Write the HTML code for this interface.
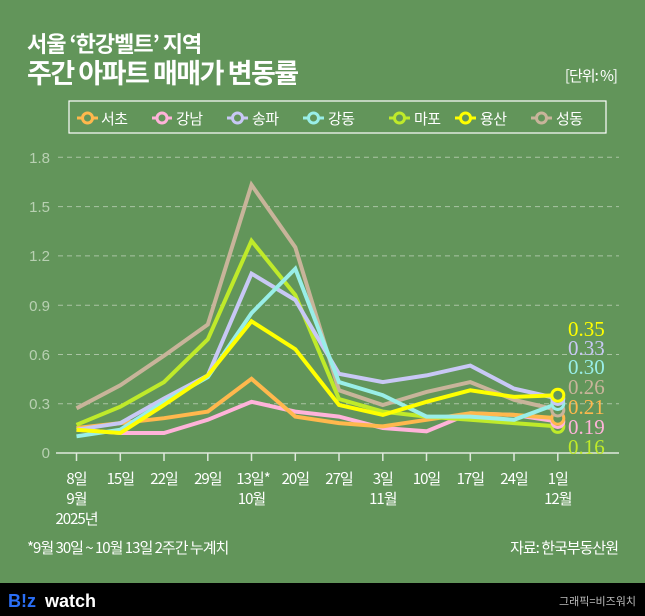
<!DOCTYPE html>
<html><head><meta charset="utf-8"><style>
html,body{margin:0;padding:0;background:#62955a;}
svg{display:block}
</style></head><body>
<svg width="645" height="616" viewBox="0 0 645 616" xmlns="http://www.w3.org/2000/svg" style="font-family:'Liberation Sans','Noto Sans CJK KR',sans-serif">
<rect width="645" height="616" fill="#62955a"/>
<text x="27" y="52" font-size="22" font-weight="bold" fill="#fff" style="font-family:'Noto Sans CJK KR',sans-serif" letter-spacing="-1">서울 ‘한강벨트’ 지역</text>
<text x="27" y="83" font-size="27" font-weight="bold" fill="#fff" style="font-family:'Noto Sans CJK KR',sans-serif" letter-spacing="-1.5">주간 아파트 매매가 변동률</text>
<text x="617" y="81" font-size="15" fill="#fff" text-anchor="end" style="font-family:'Noto Sans CJK KR',sans-serif" letter-spacing="-1">[단위: %]</text>
<rect x="69" y="101" width="537" height="32" fill="none" stroke="#fff" stroke-width="1.2"/>
<g stroke-width="3" fill="none">
<line x1="77" y1="118" x2="98" y2="118" stroke="#ffb84d"/><circle cx="87.5" cy="118" r="5" stroke="#ffb84d" fill="#62955a"/>
<line x1="152" y1="118" x2="172" y2="118" stroke="#ffb3d9"/><circle cx="162" cy="118" r="5" stroke="#ffb3d9" fill="#62955a"/>
<line x1="227" y1="118" x2="248" y2="118" stroke="#c8c8f5"/><circle cx="237.5" cy="118" r="5" stroke="#c8c8f5" fill="#62955a"/>
<line x1="303" y1="118" x2="324" y2="118" stroke="#99eee8"/><circle cx="313.5" cy="118" r="5" stroke="#99eee8" fill="#62955a"/>
<line x1="389" y1="118" x2="410" y2="118" stroke="#bfea2a"/><circle cx="399.5" cy="118" r="5" stroke="#bfea2a" fill="#62955a"/>
<line x1="455" y1="118" x2="476" y2="118" stroke="#ffff00"/><circle cx="465.5" cy="118" r="5" stroke="#ffff00" fill="#62955a"/>
<line x1="531" y1="118" x2="552" y2="118" stroke="#c8b49a"/><circle cx="541.5" cy="118" r="5" stroke="#c8b49a" fill="#62955a"/>
</g>
<g font-size="15" fill="#fff" style="font-family:'Noto Sans CJK KR',sans-serif" letter-spacing="-0.5">
<text x="101" y="124">서초</text>
<text x="176" y="124">강남</text>
<text x="252" y="124">송파</text>
<text x="328" y="124">강동</text>
<text x="414" y="124">마포</text>
<text x="480" y="124">용산</text>
<text x="556" y="124">성동</text>
</g>
<g stroke="#a9c4a3" stroke-width="1" stroke-dasharray="5,4">
<line x1="58" y1="157.3" x2="619" y2="157.3"/>
<line x1="58" y1="206.6" x2="619" y2="206.6"/>
<line x1="58" y1="255.9" x2="619" y2="255.9"/>
<line x1="58" y1="305.2" x2="619" y2="305.2"/>
<line x1="58" y1="354.5" x2="619" y2="354.5"/>
<line x1="58" y1="403.8" x2="619" y2="403.8"/>
</g>
<g font-size="15" fill="#b8d0b2" text-anchor="end">
<text x="50" y="163">1.8</text><text x="50" y="212">1.5</text><text x="50" y="261">1.2</text>
<text x="50" y="311">0.9</text><text x="50" y="360">0.6</text><text x="50" y="409">0.3</text><text x="50" y="458">0</text>
</g>
<line x1="56" y1="453" x2="619" y2="453" stroke="#dfe9dc" stroke-width="1.5"/>
<g stroke="#dfe9dc" stroke-width="1.5">
<line x1="76.5" y1="453" x2="76.5" y2="461"/><line x1="120.3" y1="453" x2="120.3" y2="461"/><line x1="164" y1="453" x2="164" y2="461"/><line x1="207.8" y1="453" x2="207.8" y2="461"/><line x1="251.5" y1="453" x2="251.5" y2="461"/><line x1="295.3" y1="453" x2="295.3" y2="461"/><line x1="339" y1="453" x2="339" y2="461"/><line x1="382.8" y1="453" x2="382.8" y2="461"/><line x1="426.5" y1="453" x2="426.5" y2="461"/><line x1="470.3" y1="453" x2="470.3" y2="461"/><line x1="514" y1="453" x2="514" y2="461"/><line x1="557.8" y1="453" x2="557.8" y2="461"/>
</g>
<g font-size="15" fill="#fff" text-anchor="middle" style="font-family:'Noto Sans CJK KR',sans-serif" letter-spacing="-1">
<text x="76.5" y="484">8일</text><text x="120.3" y="484">15일</text><text x="164" y="484">22일</text><text x="207.8" y="484">29일</text><text x="253" y="484">13일*</text><text x="295.3" y="484">20일</text><text x="339" y="484">27일</text><text x="382.8" y="484">3일</text><text x="426.5" y="484">10일</text><text x="470.3" y="484">17일</text><text x="514" y="484">24일</text><text x="557.8" y="484">1일</text>
<text x="76.5" y="504">9월</text><text x="251.5" y="504">10월</text><text x="382.8" y="504">11월</text><text x="557.8" y="504">12월</text>
<text x="76.5" y="524">2025년</text>
</g>
<text x="27" y="553" font-size="15" fill="#fff" style="font-family:'Noto Sans CJK KR',sans-serif" letter-spacing="-1">*9월 30일 ~ 10월 13일 2주간 누계치</text>
<text x="618" y="553" font-size="15" fill="#fff" text-anchor="end" style="font-family:'Noto Sans CJK KR',sans-serif" letter-spacing="-1">자료: 한국부동산원</text>
<g fill="none" stroke-width="4" stroke-linejoin="miter">
<polyline stroke="#ffb3d9" points="76.5,429.7 120.3,433 164,433 207.8,419.8 251.5,401.8 295.3,411.6 339,416.6 382.8,428 426.5,431.3 470.3,413.3 514,414.9 557.8,421.5"/>
<polyline stroke="#ffb84d" points="76.5,428 120.3,423.1 164,418.2 207.8,411.6 251.5,378.8 295.3,416.6 339,423.1 382.8,426.4 426.5,419.8 470.3,413.3 514,414.9 557.8,418.2"/>
<polyline stroke="#c8b49a" points="76.5,408.3 120.3,385.3 164,355.7 207.8,324.5 251.5,184.9 295.3,247.3 339,390.3 382.8,405 426.5,391.9 470.3,382.1 514,399.8 557.8,410"/>
<polyline stroke="#bfea2a" points="76.5,424.8 120.3,406.7 164,382.1 207.8,339.3 251.5,240.8 295.3,295 339,399 382.8,411.6 426.5,416.6 470.3,419.8 514,423.1 557.8,426.4"/>
<polyline stroke="#c8c8f5" points="76.5,429.7 120.3,423.1 164,398.5 207.8,375.4 251.5,273.6 295.3,300 339,373.8 382.8,382.1 426.5,375.4 470.3,365.6 514,388.6 557.8,398.5"/>
<polyline stroke="#99eee8" points="76.5,436.3 120.3,429.7 164,401.8 207.8,377.1 251.5,313.1 295.3,268.7 339,382.1 382.8,395.2 426.5,416.6 470.3,416.6 514,419.8 557.8,403.5"/>
<polyline stroke="#ffff00" points="76.5,429.7 120.3,433 164,405 207.8,375.4 251.5,321.3 295.3,349.2 339,405 382.8,414.9 426.5,401.8 470.3,390.3 514,396.9 557.8,395.2"/>
</g>
<g fill="#62955a" stroke-width="3">
<circle cx="557.8" cy="426.4" r="6" stroke="#bfea2a"/>
<circle cx="557.8" cy="421.5" r="6" stroke="#ffb3d9"/>
<circle cx="557.8" cy="418.2" r="6" stroke="#ffb84d"/>
<circle cx="557.8" cy="410" r="6" stroke="#c8b49a"/>
<circle cx="557.8" cy="403.5" r="6" stroke="#99eee8"/>
<circle cx="557.8" cy="398.5" r="6" stroke="#c8c8f5"/>
<circle cx="557.8" cy="395.2" r="6" stroke="#ffff00"/>
</g>
<g font-size="21" style="font-family:'Liberation Serif',serif">
<text x="568" y="336" fill="#ffff00">0.35</text>
<text x="568" y="355" fill="#c8c8f5">0.33</text>
<text x="568" y="374" fill="#99eee8">0.30</text>
<text x="568" y="394" fill="#c8b49a">0.26</text>
<text x="568" y="414" fill="#ffb84d">0.21</text>
<text x="568" y="434" fill="#ffb3d9">0.19</text>
<text x="568" y="454" fill="#bfea2a">0.16</text>
</g>
<rect x="0" y="583" width="645" height="33" fill="#000"/>
<text x="8" y="607" font-size="18" font-weight="bold" fill="#2a6ef5">B!z</text>
<text x="45" y="607" font-size="18" font-weight="bold" fill="#fff">watch</text>
<text x="636" y="605" font-size="11" fill="#bbb" text-anchor="end" style="font-family:'Noto Sans CJK KR',sans-serif">그래픽=비즈워치</text>
</svg>
</body></html>
